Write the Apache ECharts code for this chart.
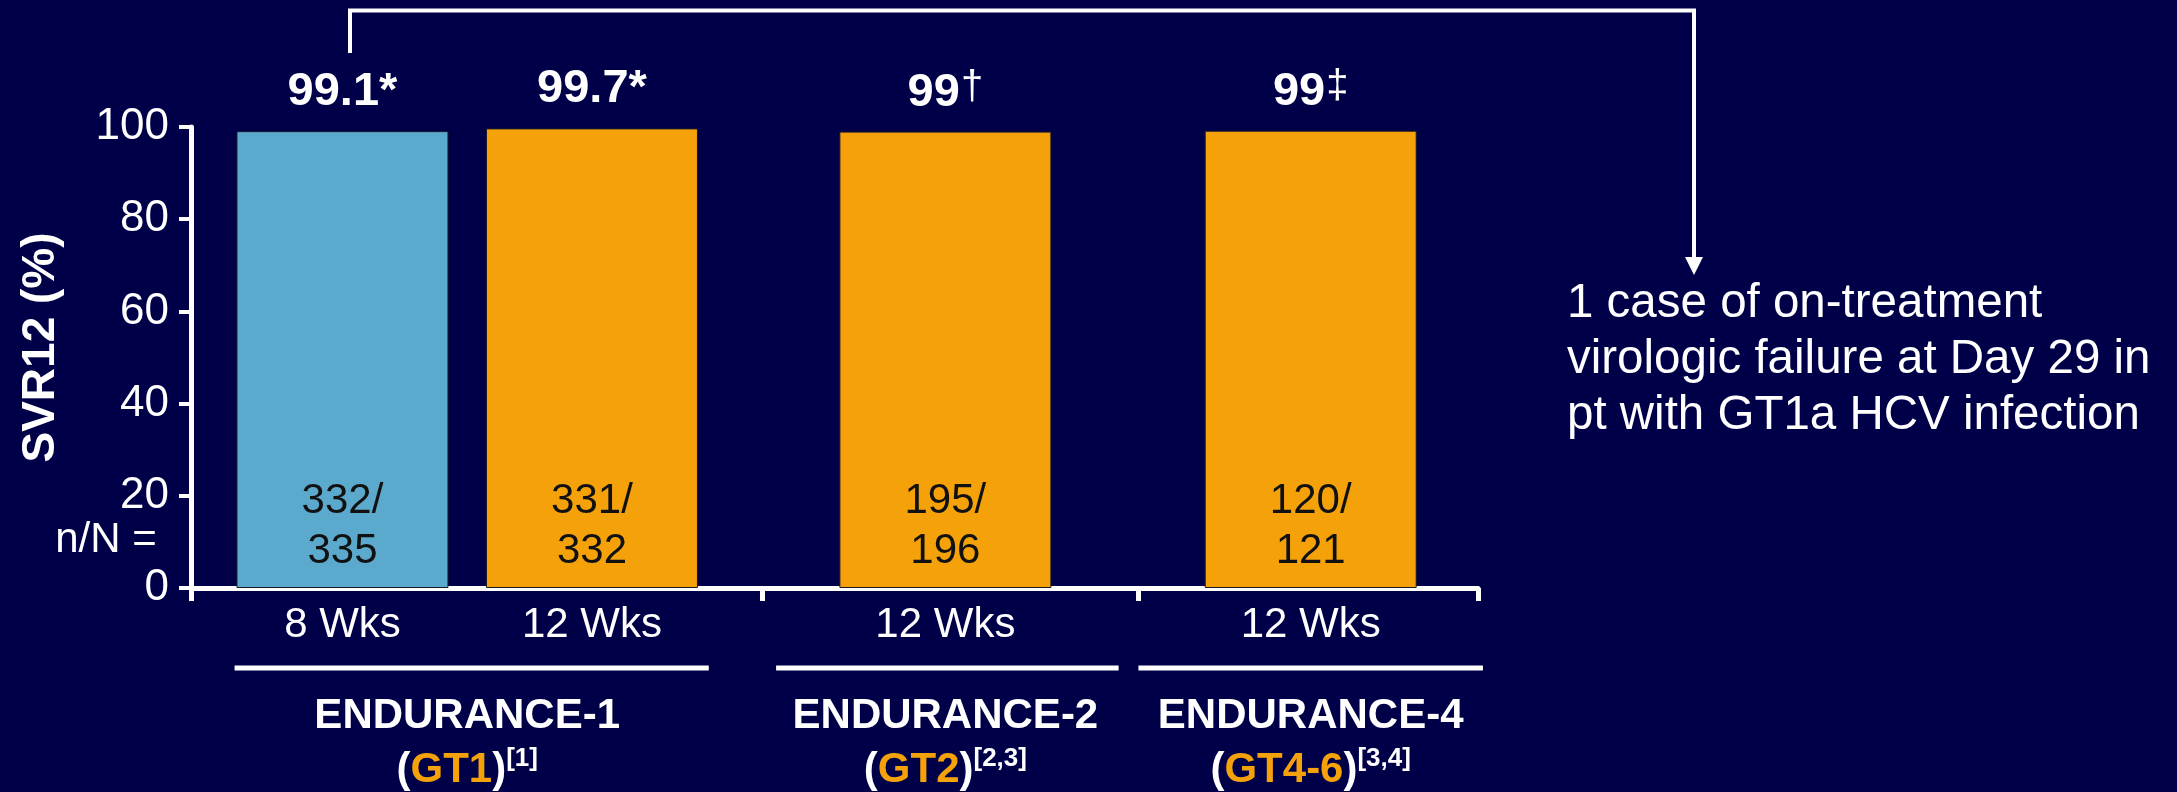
<!DOCTYPE html>
<html>
<head>
<meta charset="utf-8">
<title>SVR12 by study</title>
<script src="https://cdn.jsdelivr.net/npm/echarts@6.0.0/dist/echarts.min.js"></script>
<style>
  html, body { margin: 0; padding: 0; background: #000048; }
  #chart { width: 2177px; height: 792px; }
</style>
</head>
<body>
<div id="chart"></div>
<script>
// data
const categories = ['8 Wks', '12 Wks', '12 Wks', '12 Wks'];
const barPositions = [1.53, 4.05, 7.62, 11.31];
const svr12 = [99.1, 99.7, 99.0, 99.2];
const valueLabels = ['99.1*', '99.7*', '99†', '99‡'];
const responders = [332, 331, 195, 120];
const totals = [335, 332, 196, 121];
const barColors = ['#5BAACE', '#F5A20A', '#F5A20A', '#F5A20A'];
const groupTitles = ['ENDURANCE-1', 'ENDURANCE-2', 'ENDURANCE-4'];
const groupGenotypes = ['GT1', 'GT2', 'GT4-6'];
const groupRefs = ['[1]', '[2,3]', '[3,4]'];
const groupBars = [[0, 1], [2], [3]];
const groupTicks = [0, 5.77, 9.57, 13];
const noteLines = ['1 case of on-treatment', 'virologic failure at Day 29 in', 'pt with GT1a HCV infection'];

// layout
const FONT = 'Liberation Sans, Arial, sans-serif';
const groupSpans = [[0.44, 5.23], [5.91, 9.37], [9.57, 13.05]];

const chart = echarts.init(document.getElementById('chart'));

function valueRich (s) {
  const m = s.match(/^(.*?)([†‡]?)$/);
  return '{v|' + m[1] + '}' + (m[2] ? '{d|' + m[2] + '}' : '');
}

const option = {
  backgroundColor: '#000048',
  textStyle: { fontFamily: FONT },
  grid: { left: 191, right: 699, top: 127, bottom: 204, outerBoundsMode: 'none' },
  xAxis: {
    type: 'value',
    min: 0,
    max: 13,
    splitLine: { show: false },
    axisLine: { show: true, lineStyle: { color: '#fff', width: 5 } },
    axisTick: { show: true, customValues: groupTicks, length: 13, lineStyle: { color: '#fff', width: 5 } },
    axisLabel: {
      customValues: barPositions,
      formatter: v => categories[barPositions.indexOf(v)],
      color: '#fff',
      fontSize: 42,
      fontFamily: FONT,
      margin: 16
    }
  },
  yAxis: {
    type: 'value',
    min: 0,
    max: 100,
    interval: 20,
    name: 'SVR12 (%)',
    nameLocation: 'middle',
    nameRotate: 90,
    nameGap: 127,
    nameTextStyle: { color: '#fff', fontSize: 46, fontWeight: 'bold', fontFamily: FONT, padding: [0, 0, 0, 20] },
    splitLine: { show: false },
    axisLine: { show: true, lineStyle: { color: '#fff', width: 5 } },
    axisTick: { show: true, length: 12, lineStyle: { color: '#fff', width: 4 } },
    axisLabel: { color: '#fff', fontSize: 44, fontFamily: FONT, margin: 22 }
  },
  series: [
    {
      type: 'bar',
      barWidth: 212,
      data: svr12.map((v, i) => ({
        value: [barPositions[i], v],
        itemStyle: { color: barColors[i] }
      })),
      itemStyle: { borderColor: '#1a1a2a', borderWidth: 1 },
      label: {
        show: true,
        position: 'insideBottom',
        distance: 12,
        formatter: p => responders[p.dataIndex] + '/\n' + totals[p.dataIndex],
        color: '#111',
        fontSize: 42,
        lineHeight: 50,
        fontFamily: FONT
      }
    },
    {
      type: 'bar',
      barWidth: 212,
      barGap: '-100%',
      data: svr12.map((v, i) => [barPositions[i], v]),
      itemStyle: { color: 'rgba(0,0,0,0)' },
      label: {
        show: true,
        position: 'top',
        distance: 14,
        formatter: p => valueRich(valueLabels[p.dataIndex]),
        rich: {
          v: { color: '#fff', fontSize: 47, fontWeight: 'bold', fontFamily: FONT, lineHeight: 50 },
          d: { color: '#fff', fontSize: 40, fontFamily: FONT, lineHeight: 46, verticalAlign: 'top', padding: [0, 0, 0, 1] }
        }
      }
    }
  ]
};

chart.setOption(option);

// annotations placed through the axis scale
const px = x => chart.convertToPixel({ gridIndex: 0 }, [x, 0])[0];
const graphics = [];

graphics.push({
  type: 'polyline',
  shape: { points: [[350, 53], [350, 10.5], [1694, 10.5], [1694, 260]] },
  style: { stroke: '#fff', lineWidth: 4, fill: null }
});
graphics.push({
  type: 'polygon',
  shape: { points: [[1685, 257], [1703, 257], [1694, 275]] },
  style: { fill: '#fff' }
});
graphics.push({
  type: 'text',
  x: 1567,
  y: 276,
  style: { text: noteLines.join('\n'), fill: '#fff', fontSize: 47.5, fontFamily: FONT, lineHeight: 56, verticalAlign: 'top' }
});
graphics.push({
  type: 'text',
  x: 106,
  y: 540,
  style: { text: 'n/N =', fill: '#fff', fontSize: 42, fontFamily: FONT, align: 'center', verticalAlign: 'middle' }
});

groupTitles.forEach((title, g) => {
  const span = groupSpans[g];
  graphics.push({
    type: 'line',
    shape: { x1: px(span[0]), y1: 668, x2: px(span[1]), y2: 668 },
    style: { stroke: '#fff', lineWidth: 5 }
  });
  const idx = groupBars[g];
  const cx = idx.reduce((s, i) => s + px(barPositions[i]), 0) / idx.length;
  graphics.push({
    type: 'text',
    x: cx,
    y: 716,
    style: { text: title, fill: '#fff', fontSize: 42, fontWeight: 'bold', fontFamily: FONT, align: 'center', verticalAlign: 'middle' }
  });
  graphics.push({
    type: 'text',
    x: cx,
    y: 770,
    style: {
      text: '{w|(}{o|' + groupGenotypes[g] + '}{w|)}{s|' + groupRefs[g] + '}',
      align: 'center',
      verticalAlign: 'middle',
      rich: {
        w: { fill: '#fff', fontSize: 42, fontWeight: 'bold', fontFamily: FONT, lineHeight: 48 },
        o: { fill: '#F5A20A', fontSize: 42, fontWeight: 'bold', fontFamily: FONT, lineHeight: 48 },
        s: { fill: '#fff', fontSize: 26, fontWeight: 'bold', fontFamily: FONT, lineHeight: 30, verticalAlign: 'top' }
      }
    }
  });
});

chart.setOption({ graphic: graphics });
</script>
</body>
</html>
